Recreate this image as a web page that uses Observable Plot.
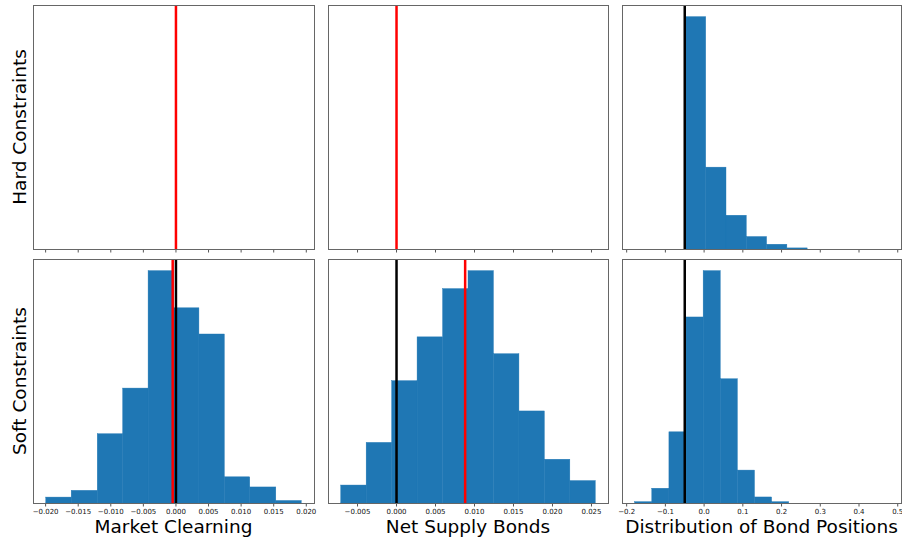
<!DOCTYPE html>
<html><head><meta charset="utf-8">
<script src="https://cdn.jsdelivr.net/npm/d3@7"></script>
<script src="https://cdn.jsdelivr.net/npm/@observablehq/plot@0.6"></script>
<style>
html,body{margin:0;padding:0;background:#fff;overflow:hidden;}
#chart{position:relative;width:902px;height:538px;font-family:"DejaVu Sans",sans-serif;}
#chart svg{position:absolute;overflow:visible;background:transparent;}
</style></head><body><div id="chart"></div>
<script>
// ---- data ----
const rowLabels = ["Hard Constraints", "Soft Constraints"];
const colLabels = ["Market Clearning", "Net Supply Bonds", "Distribution of Bond Positions"];

const mcSoftEdges = [-0.0199, -0.0160, -0.0120, -0.0081, -0.0042, -0.0003, 0.0036, 0.0075, 0.0114, 0.0154, 0.0193];
const mcSoftCounts = [7, 15, 82, 136, 275, 231, 200, 31, 19, 3];

const nsSoftEdges = [-0.00709, -0.00383, -0.00056, 0.00270, 0.00597, 0.00923, 0.01249, 0.01576, 0.01902, 0.02229, 0.02555];
const nsSoftCounts = [16, 54, 109, 148, 191, 207, 133, 82, 39, 20];

const bpHardEdges = [-0.047, 0.0054, 0.0578, 0.1102, 0.1626, 0.2150, 0.2674, 0.3198, 0.3722, 0.4246, 0.4770];
const bpHardCounts = [633, 223, 92, 34, 13, 3, 0, 0, 0, 0];

const bpSoftEdges = [-0.178, -0.1338, -0.0896, -0.0454, -0.0012, 0.0430, 0.0872, 0.1314, 0.1756, 0.2198];
const bpSoftCounts = [2, 22, 106, 277, 346, 185, 49, 9, 2];

const mcTicks = [-0.020, -0.015, -0.010, -0.005, 0.000, 0.005, 0.010, 0.015, 0.020];
const nsTicks = [-0.005, 0.000, 0.005, 0.010, 0.015, 0.020, 0.025];
const bpTicks = [-0.2, -0.1, 0.0, 0.1, 0.2, 0.3, 0.4, 0.5];

const mcHardRed = 0.0;
const mcSoftRed = -0.0005, mcSoftBlack = 0.0;
const nsHardRed = 0.0;
const nsSoftRed = 0.0088, nsSoftBlack = 0.0;
const bpBlack = -0.05;

// ---- layout ----
const cols = [{l: 33, r: 314}, {l: 328, r: 608}, {l: 622, r: 901}];
const rows = [{t: 5, b: 249}, {t: 259, b: 503}];
const BLUE = "#1f77b4";
const chart = document.getElementById("chart");

function padDomain(edgeLists) {
  const all = edgeLists.flat();
  const lo = d3.min(all), hi = d3.max(all), p = (hi - lo) * 0.05;
  return [lo - p, hi + p];
}
const fmt3 = v => d3.format(".3f")(v).replace("-", "\u2212");
const fmt1 = v => d3.format(".1f")(v).replace("-", "\u2212");

const domains = [padDomain([mcSoftEdges]), padDomain([nsSoftEdges]), padDomain([bpHardEdges, bpSoftEdges])];

function panel({col, row, ticks, fmt, edges, counts, rules}) {
  const c = cols[col], r = rows[row];
  const mL = 20, mR = col === 2 ? 1 : 20, mT = 2, mB = 22;
  const w = c.r - c.l + mL + mR, h = r.b - r.t + mT + mB;
  const ymax = counts ? d3.max(counts) * 1.05 : 1;
  const marks = [];
  if (edges) marks.push(Plot.rectY(d3.range(counts.length).filter(i => counts[i] > 0), {
    x1: i => edges[i], x2: i => edges[i + 1], y: i => counts[i], fill: BLUE,
    stroke: BLUE, strokeWidth: 0.4
  }));
  rules.forEach(([v, color]) => marks.push(Plot.ruleX([v], {stroke: color, strokeWidth: 2.5})));
  marks.push(Plot.axisX({
    ticks, tickFormat: row === 1 ? fmt : () => "", tickSize: 3.5, tickPadding: 2.5,
    fontSize: 7, stroke: "#555", fill: "#111", label: null
  }));
  marks.push(Plot.frame({stroke: "#666"}));
  const svg = Plot.plot({
    width: w, height: h, marginLeft: mL, marginRight: mR, marginTop: mT, marginBottom: mB,
    style: {fontFamily: "DejaVu Sans", fontSize: "7px", background: "transparent", overflow: "visible"},
    x: {domain: domains[col]},
    y: {domain: [0, ymax], axis: null},
    marks
  });
  svg.style.left = (c.l - mL) + "px";
  svg.style.top = (r.t - mT) + "px";
  chart.appendChild(svg);
}

panel({col: 0, row: 0, ticks: mcTicks, fmt: fmt3, rules: [[mcHardRed, "red"]]});
panel({col: 1, row: 0, ticks: nsTicks, fmt: fmt3, rules: [[nsHardRed, "red"]]});
panel({col: 2, row: 0, ticks: bpTicks, fmt: fmt1, edges: bpHardEdges, counts: bpHardCounts, rules: [[bpBlack, "black"]]});
panel({col: 0, row: 1, ticks: mcTicks, fmt: fmt3, edges: mcSoftEdges, counts: mcSoftCounts, rules: [[mcSoftRed, "red"], [mcSoftBlack, "black"]]});
panel({col: 1, row: 1, ticks: nsTicks, fmt: fmt3, edges: nsSoftEdges, counts: nsSoftCounts, rules: [[nsSoftBlack, "black"], [nsSoftRed, "red"]]});
panel({col: 2, row: 1, ticks: bpTicks, fmt: fmt1, edges: bpSoftEdges, counts: bpSoftCounts, rules: [[bpBlack, "black"]]});

// ---- labels ----
const ov = d3.create("svg").attr("width", 902).attr("height", 538)
  .style("left", "0px").style("top", "0px").style("pointer-events", "none")
  .style("font-family", "'DejaVu Sans', sans-serif").style("font-size", "18.5px");
colLabels.forEach((t, i) => {
  ov.append("text").attr("x", (cols[i].l + cols[i].r) / 2).attr("y", 532.5)
    .attr("text-anchor", "middle").attr("fill", "#000").text(t);
});
rowLabels.forEach((t, i) => {
  const cy = (rows[i].t + rows[i].b) / 2;
  ov.append("text").attr("transform", `translate(25.5,${cy}) rotate(-90)`)
    .attr("text-anchor", "middle").attr("fill", "#000").text(t);
});
chart.appendChild(ov.node());
</script></body></html>
